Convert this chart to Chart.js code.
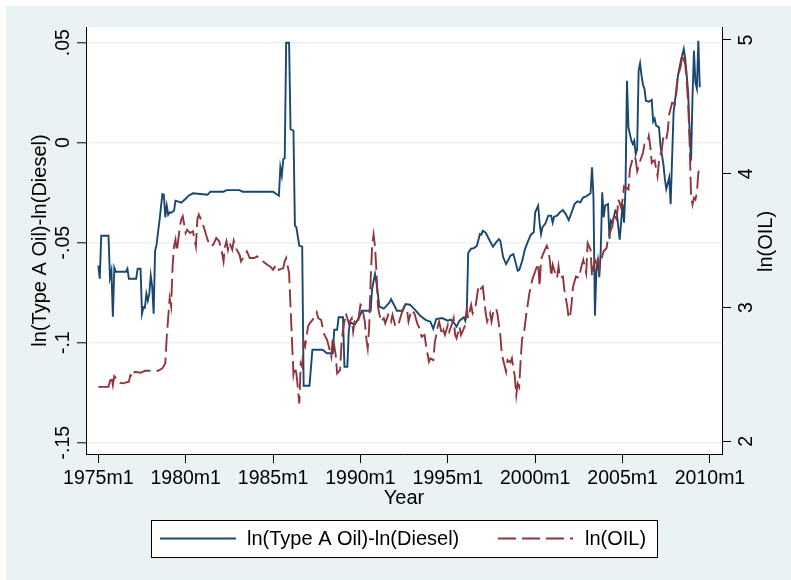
<!DOCTYPE html>
<html>
<head>
<meta charset="utf-8">
<script src="https://cdn.jsdelivr.net/npm/chart.js@4.4.1/dist/chart.umd.min.js"></script>
<style>
html,body{margin:0;padding:0;background:#ffffff;}
#wrap{position:absolute;left:0;top:0;width:791px;height:580px;}
canvas{display:block;}
</style>
</head>
<body>
<div id="wrap"><canvas id="c" width="791" height="580"></canvas></div>
<script>
// Months counted from 1975m1 (0 = 1975m1)
const diffMonths = [0,1,2,7,8,9,10,11,12,19,20,21,26,27,29,30,31,32,33,34,35,36,37,38,39,40,42,44,45,46,47,48,49,50,52,53,55,57,60,62,65,75,77,86,88,97,99,120,122,124,125,126,127,128,129,131,132,134,135,136,138,140,141,145,147,154,157,161,162,164,165,168,169,171,172,173,176,179,181,187,188,190,191,193,196,198,200,201,203,205,209,211,214,218,221,225,228,230,232,236,240,242,244,246,248,251,252,253,254,256,258,260,262,263,264,266,269,271,273,275,276,278,280,283,285,288,289,291,293,295,297,299,300,302,303,304,305,307,309,311,312,313,315,317,319,321,323,325,327,329,331,333,335,338,339,340,341,342,343,344,345,346,347,348,350,351,352,353,355,356,358,360,361,362,363,364,365,366,367,368,369,370,371,372,373,374,375,376,378,380,381,382,383,385,386,388,389,390,392,393,394,395,396,398,400,402,403,404,405,406,407,408,409,410,411,412,413];
const diffValues = [-0.0615,-0.068,-0.0465,-0.0465,-0.0675,-0.064,-0.087,-0.0625,-0.0645,-0.0645,-0.063,-0.068,-0.068,-0.063,-0.063,-0.0855,-0.0823,-0.0825,-0.0755,-0.079,-0.0755,-0.0665,-0.072,-0.0855,-0.054,-0.051,-0.039,-0.0257,-0.026,-0.0373,-0.0315,-0.036,-0.0348,-0.035,-0.034,-0.029,-0.0295,-0.030,-0.028,-0.0265,-0.0253,-0.026,-0.0245,-0.0245,-0.0237,-0.0237,-0.0245,-0.0245,-0.0255,-0.0265,-0.0123,-0.0165,-0.0083,-0.0078,0.05,0.05,0.0068,0.006,-0.0415,-0.0423,-0.0515,-0.052,-0.1215,-0.1215,-0.1035,-0.1035,-0.1053,-0.1053,-0.0935,-0.0935,-0.0873,-0.0873,-0.112,-0.112,-0.094,-0.0898,-0.091,-0.0875,-0.084,-0.084,-0.073,-0.0657,-0.070,-0.082,-0.083,-0.0815,-0.0798,-0.0782,-0.081,-0.084,-0.084,-0.0807,-0.081,-0.084,-0.0865,-0.0887,-0.0895,-0.093,-0.0882,-0.0877,-0.089,-0.0885,-0.0898,-0.092,-0.089,-0.0873,-0.089,-0.084,-0.055,-0.053,-0.0527,-0.0515,-0.0457,-0.046,-0.044,-0.045,-0.0493,-0.052,-0.05,-0.0482,-0.049,-0.0573,-0.0607,-0.0565,-0.0557,-0.064,-0.0637,-0.0593,-0.0532,-0.0493,-0.046,-0.0448,-0.0348,-0.0315,-0.04,-0.0457,-0.0423,-0.0403,-0.0365,-0.0365,-0.040,-0.037,-0.0365,-0.0348,-0.0337,-0.0357,-0.0387,-0.0348,-0.0307,-0.0293,-0.0298,-0.0273,-0.0268,-0.0253,-0.0123,-0.0273,-0.0865,-0.064,-0.059,-0.0673,-0.054,-0.0248,-0.0373,-0.0315,-0.0307,-0.048,-0.039,-0.04,-0.034,-0.035,-0.0485,-0.0307,-0.04,-0.023,0.031,0.0077,0.0044,0.001,-0.0007,0.001,-0.0057,-0.0032,0.036,0.0397,0.0335,0.029,0.027,0.021,0.0205,0.0214,0.0105,0.012,0.0085,0.0077,-0.0015,-0.0107,-0.018,-0.0232,-0.0174,-0.0307,-0.0074,0.015,0.021,0.0335,0.041,0.0469,0.0419,0.034,0.025,0.006,-0.009,0.0227,0.046,0.03,0.027,0.051,0.0277];

const oilMonths = [0,7,9,10,11,13,15,17,21,22,24,25,29,32,41,44,46,47,49,50,51,52,53,54,56,57,58,60,61,63,65,67,68,69,71,73,75,77,79,81,83,85,86,87,88,89,90,92,93,95,97,98,100,102,104,107,109,111,113,116,118,120,122,124,127,128,129,131,132,133,134,135,136,137,138,139,140,141,142,144,145,148,150,151,153,155,157,158,160,161,163,164,166,167,168,170,172,174,175,176,178,180,181,183,184,185,186,187,188,189,190,191,192,194,196,197,199,201,202,204,206,209,210,212,213,215,217,219,221,222,224,225,227,228,230,231,233,234,236,237,238,240,241,243,244,245,246,248,249,251,252,253,254,256,257,259,260,261,262,264,265,266,267,269,270,271,273,274,276,277,278,280,281,283,284,286,287,288,289,290,291,292,294,296,298,299,300,302,303,304,305,307,308,309,310,311,312,313,315,316,317,319,320,322,323,324,325,326,328,330,331,332,333,335,336,338,339,340,341,342,343,344,345,347,349,350,352,353,354,356,357,358,359,360,361,362,364,365,367,368,369,370,371,372,374,375,377,378,379,380,381,382,384,385,387,388,390,391,392,394,396,397,398,400,401,402,403,404,405,406,407,408,409,410,411,412,413];
const oilValues = [2.407,2.407,2.487,2.42,2.487,2.463,2.437,2.433,2.445,2.495,2.478,2.52,2.512,2.527,2.527,2.545,2.583,2.782,3.07,3.007,3.307,3.457,3.507,3.42,3.607,3.657,3.682,3.557,3.582,3.557,3.57,3.457,3.657,3.695,3.645,3.582,3.507,3.457,3.47,3.52,3.495,3.407,3.345,3.457,3.495,3.432,3.487,3.432,3.5,3.432,3.395,3.345,3.382,3.42,3.37,3.37,3.382,3.37,3.345,3.32,3.307,3.282,3.32,3.282,3.295,3.345,3.37,3.257,3.007,2.75,2.5,2.557,2.507,2.4,2.282,2.582,2.557,2.745,2.71,2.857,2.88,2.92,2.965,2.92,2.907,2.8,2.76,2.72,2.632,2.782,2.645,2.507,2.532,2.732,2.832,2.957,2.882,2.92,2.82,2.895,2.87,3.02,3.007,2.895,2.77,2.695,2.857,3.207,3.457,3.545,3.457,3.27,3.007,2.895,2.92,2.882,2.945,2.895,2.945,2.857,2.87,2.982,3.007,2.982,2.895,2.982,2.957,2.882,2.832,2.782,2.795,2.72,2.595,2.62,2.607,2.732,2.857,2.895,2.795,2.832,2.795,2.87,2.82,2.882,2.92,2.795,2.77,2.857,2.795,2.845,2.87,2.982,2.92,3.02,2.957,3.007,3.082,3.157,3.132,3.157,3.057,2.957,2.895,2.957,2.895,2.957,2.995,2.957,2.8,2.66,2.607,2.52,2.607,2.59,2.62,2.482,2.345,2.432,2.407,2.607,2.77,2.79,2.96,3.107,3.207,3.24,3.27,3.33,3.157,3.357,3.39,3.44,3.462,3.43,3.357,3.232,3.32,3.282,3.22,3.307,3.22,3.232,3.132,3.007,2.92,2.937,3.032,3.157,3.232,3.22,3.27,3.32,3.357,3.257,3.482,3.432,3.232,3.307,3.357,3.332,3.382,3.282,3.345,3.42,3.445,3.52,3.582,3.607,3.695,3.657,3.807,3.782,3.745,3.807,3.907,3.9,3.882,4.032,4.12,4.132,4.107,4.02,4.057,4.095,4.157,4.22,4.232,4.282,4.207,4.082,4.095,4.1,3.982,4.095,4.182,4.282,4.257,4.32,4.445,4.532,4.52,4.62,4.732,4.807,4.9,4.85,4.82,4.695,4.532,4.232,3.832,3.77,3.82,3.807,3.857,4.007,4.057];

const xTickMonths = [0,60,120,180,240,300,360,420];
const xTickLabels = ['1975m1','1980m1','1985m1','1990m1','1995m1','2000m1','2005m1','2010m1'];
const leftTicks = [-0.15,-0.1,-0.05,0,0.05];
const leftTickLabels = ['-.15','-.1','-.05','0','.05'];
const rightTicks = [2,3,4,5];
const rightTickLabels = ['2','3','4','5'];
const seriesLabels = ['ln(Type A Oil)-ln(Diesel)','ln(OIL)'];
const axisTitles = {x:'Year', left:'ln(Type A Oil)-ln(Diesel)', right:'ln(OIL)'};

const FONT = '"Liberation Sans", Arial, Helvetica, sans-serif';
Chart.defaults.font.family = FONT;
Chart.defaults.color = '#000';

const bgPlugin = {
  id: 'stataBg',
  beforeDraw(chart) {
    const {ctx, chartArea: a} = chart;
    ctx.save();
    ctx.fillStyle = '#ffffff';
    ctx.fillRect(0, 0, chart.width, chart.height);
    ctx.fillStyle = '#EAF2F3';
    ctx.fillRect(6, 6, chart.width - 6, chart.height - 6);
    ctx.fillStyle = '#ffffff';
    ctx.fillRect(a.left, a.top, a.right - a.left, a.bottom - a.top);
    ctx.restore();
  }
};

const legendPlugin = {
  id: 'stataLegend',
  afterDraw(chart) {
    const ctx = chart.ctx;
    ctx.save();
    ctx.fillStyle = '#ffffff';
    ctx.fillRect(151, 520, 506, 37);
    ctx.strokeStyle = '#000';
    ctx.lineWidth = 1;
    ctx.setLineDash([]);
    ctx.strokeRect(151.5, 520.5, 506, 37);
    const slots = [{x0:160, x1:236, tx:247}, {x0:498, x1:573, tx:585}];
    chart.data.datasets.forEach((ds, i) => {
      const s = slots[i];
      ctx.beginPath();
      ctx.setLineDash(ds.borderDash || []);
      ctx.strokeStyle = ds.borderColor;
      ctx.lineWidth = ds.borderWidth;
      ctx.moveTo(s.x0, 538.5);
      ctx.lineTo(s.x1, 538.5);
      ctx.stroke();
      ctx.setLineDash([]);
      ctx.fillStyle = '#000';
      ctx.font = '20px ' + FONT;
      ctx.textAlign = 'left';
      ctx.textBaseline = 'middle';
      ctx.fillText(ds.label, s.tx, 539);
    });
    const a = chart.chartArea;
    ctx.translate(766, (a.top + a.bottom) / 2 + 1);
    ctx.rotate(-Math.PI / 2);
    ctx.font = '20px ' + FONT;
    ctx.textAlign = 'center';
    ctx.textBaseline = 'middle';
    ctx.fillStyle = '#000';
    ctx.fillText(axisTitles.right, 0, 0);
    ctx.restore();
  }
};

const tickFont = {family: FONT, size: 19.5};
const titleFont = {family: FONT, size: 20};

new Chart(document.getElementById('c'), {
  type: 'line',
  data: {
    datasets: [
      {
        label: seriesLabels[0],
        data: diffMonths.map((m, i) => ({x: m, y: diffValues[i]})),
        yAxisID: 'y',
        borderColor: '#1a476f',
        borderWidth: 1.9,
        pointRadius: 0,
        tension: 0,
        fill: false,
        order: 1
      },
      {
        label: seriesLabels[1],
        data: oilMonths.map((m, i) => ({x: m, y: oilValues[i]})),
        yAxisID: 'y1',
        borderColor: '#90353b',
        borderWidth: 1.9,
        borderDash: [18, 6],
        pointRadius: 0,
        tension: 0,
        fill: false,
        order: 0
      }
    ]
  },
  options: {
    responsive: false,
    animation: false,
    devicePixelRatio: 1,
    layout: {padding: {top: 27, left: 0, right: 0, bottom: 0}},
    plugins: {legend: {display: false}, tooltip: {enabled: false}},
    scales: {
      x: {
        type: 'linear',
        position: 'bottom',
        min: -8.45,
        max: 428.25,
        afterBuildTicks: s => { s.ticks = xTickMonths.map(v => ({value: v})); },
        afterFit: s => { s.height = 126; },
        ticks: {
          autoSkip: false, maxRotation: 0, minRotation: 0, padding: 3.6,
          font: tickFont, color: '#000',
          callback: v => { const i = xTickMonths.indexOf(v); return i >= 0 ? xTickLabels[i] : ''; }
        },
        grid: {drawOnChartArea: false, drawTicks: true, tickLength: 9, tickColor: '#000', tickWidth: 1},
        border: {display: true, color: '#000', width: 1},
        title: {display: true, text: axisTitles.x, font: titleFont, color: '#000', padding: {top: 0, bottom: 70}}
      },
      y: {
        type: 'linear',
        position: 'left',
        min: -0.15565,
        max: 0.05785,
        afterBuildTicks: s => { s.ticks = leftTicks.map(v => ({value: v})); },
        afterFit: s => { s.width = 86; },
        ticks: {
          minRotation: 90, maxRotation: 90, crossAlign: 'center', padding: -3,
          font: tickFont, color: '#000',
          callback: v => { const i = leftTicks.indexOf(v); return i >= 0 ? leftTickLabels[i] : ''; }
        },
        grid: {color: '#EAF2F3', lineWidth: 1.6, drawTicks: true, tickLength: 9, tickColor: '#000', tickWidth: 1},
        border: {display: true, color: '#000', width: 1},
        title: {display: true, text: axisTitles.left, font: titleFont, color: '#000', padding: {top: 28.5, bottom: 0}}
      },
      y1: {
        type: 'linear',
        position: 'right',
        min: 1.905,
        max: 5.097,
        afterBuildTicks: s => { s.ticks = rightTicks.map(v => ({value: v})); },
        afterFit: s => { s.width = 69; },
        ticks: {
          minRotation: 90, maxRotation: 90, crossAlign: 'center', padding: 10,
          font: tickFont, color: '#000',
          callback: v => { const i = rightTicks.indexOf(v); return i >= 0 ? rightTickLabels[i] : ''; }
        },
        grid: {drawOnChartArea: false, drawTicks: true, tickLength: 9, tickColor: '#000', tickWidth: 1},
        border: {display: true, color: '#000', width: 1},
        title: {display: false}
      }
    }
  },
  plugins: [bgPlugin, legendPlugin]
});
</script>
</body>
</html>
